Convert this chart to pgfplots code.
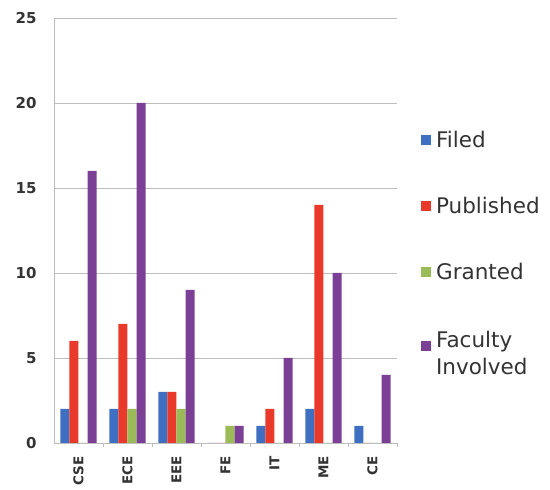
\documentclass[border=0pt]{standalone}
\usepackage{pgfplots}
\pgfplotsset{compat=1.18}
\usepackage{fontspec}
\setmainfont{DejaVu Sans}
\definecolor{cFiled}{HTML}{3F6FC0}
\definecolor{cPub}{HTML}{E8392B}
\definecolor{cGr}{HTML}{9BBB59}
\definecolor{cFac}{HTML}{7B3F95}
\definecolor{gridc}{HTML}{BDBDBD}
\definecolor{txt}{HTML}{333333}
\begin{document}
\begin{tikzpicture}
\useasboundingbox (-54pt,-47pt) rectangle (496pt,443pt);
\begin{axis}[
  at={(0pt,0pt)}, anchor=south west,
  scale only axis, width=343pt, height=425pt,
  ybar=0pt, bar width=0.185,
  xmin=-0.5, xmax=6.5, ymin=0, ymax=25,
  ytick={0,5,10,15,20,25},
  xtick={0,...,6},
  xticklabels={CSE,ECE,EEE,FE,IT,ME,CE},
  x tick label style={rotate=90, anchor=east, inner xsep=13pt, font=\bfseries\fontsize{13.5}{14}\selectfont, text=txt},
  y tick label style={font=\bfseries\fontsize{15}{16}\selectfont, text=txt, xshift=-14pt},
  /pgf/number format/assume math mode=true,
  ymajorgrids, grid style={gridc, line width=0.6pt},
  major tick length=0pt,
  axis x line*=bottom, axis y line*=left,
  axis line style={gridc, line width=0.6pt},
  x axis line style={-}, y axis line style={-},
  extra x ticks={0.5,1.5,2.5,3.5,4.5,5.5,6.5},
  extra x tick labels={},
  extra x tick style={grid=none, major tick length=4pt, tick style={gridc}},
  xtick pos=bottom, ytick pos=left,
  legend style={draw=none, fill=none, at={(1.061,0.461)}, anchor=west,
    font=\fontsize{21.5}{27}\selectfont, text=txt, row sep=44pt, cells={anchor=west}},
  legend cell align=left,
  legend image code/.code={\path (0pt,0pt) -- (13pt,0pt); \fill[#1] (0pt,-5pt) rectangle (10pt,5pt);},
]
\addplot[fill=cFiled, draw=none] coordinates {(0,2) (1,2) (2,3) (3,0) (4,1) (5,2) (6,1)};
\addplot[fill=cPub, draw=none] coordinates {(0,6) (1,7) (2,3) (3,0) (4,2) (5,14) (6,0)};
\addplot[fill=cGr, draw=none] coordinates {(0,0) (1,2) (2,2) (3,1) (4,0) (5,0) (6,0)};
\addplot[fill=cFac, draw=none] coordinates {(0,16) (1,20) (2,9) (3,1) (4,5) (5,10) (6,4)};
\addlegendentry{Filed}
\addlegendentry{Published}
\addlegendentry{Granted}
\addlegendentry{\begin{tabular}{@{}l@{}}Faculty\\Involved\end{tabular}}
\end{axis}
\end{tikzpicture}
\end{document}
